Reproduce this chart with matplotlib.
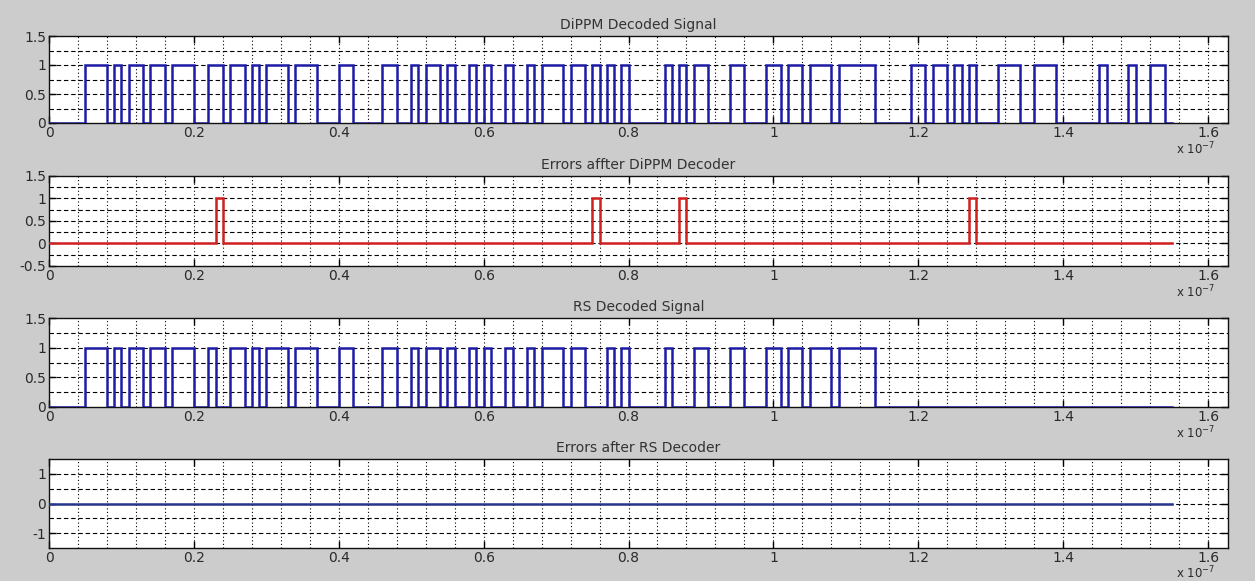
import numpy as np
import matplotlib
matplotlib.use("Agg")
import matplotlib.pyplot as plt
from matplotlib.ticker import FixedLocator, FuncFormatter

# ---- data (times in ns) ----
dippm_rise = [5, 9, 11, 14, 17, 22, 25, 28, 30, 34, 40, 46, 50, 52, 55, 58, 60, 63, 66, 68,
              72, 75, 77, 79, 85, 87, 89, 94, 99, 102, 105, 109, 119, 122, 125, 127, 131, 136,
              145, 149, 152]
dippm_fall = [8, 10, 13, 16, 20, 24, 27, 29, 33, 37, 42, 48, 51, 54, 56, 59, 61, 64, 67, 71,
              74, 76, 78, 80, 86, 88, 91, 96, 101, 104, 108, 114, 121, 124, 126, 128, 134, 139,
              146, 150, 154]
err1_rise = [23, 75, 87, 127]
err1_fall = [24, 76, 88, 128]
rs_rise = [5, 9, 11, 14, 17, 22, 25, 28, 30, 34, 40, 46, 50, 52, 55, 58, 60, 63, 66, 68,
           72, 77, 79, 85, 89, 94, 99, 102, 105, 109]
rs_fall = [8, 10, 13, 16, 20, 23, 27, 29, 33, 37, 42, 48, 51, 54, 56, 59, 61, 64, 67, 71,
           74, 78, 80, 86, 91, 96, 101, 104, 108, 114]
err2_rise = []
err2_fall = []
t_end = 155  # ns

titles = ["DiPPM Decoded Signal", "Errors affter DiPPM Decoder",
          "RS Decoded Signal", "Errors after RS Decoder"]
xticks = [0, 0.2, 0.4, 0.6, 0.8, 1.0, 1.2, 1.4, 1.6]


def wave(rises, falls, end):
    xs = [0.0]
    ys = [0.0]
    for r, f in zip(rises, falls):
        xs += [r, r, f, f]
        ys += [0, 1, 1, 0]
    xs.append(end)
    ys.append(0)
    return np.array(xs) * 1e-9, np.array(ys, dtype=float)


BLUE = "#1c1ca6"
RED = "#d02020"
DARKBLUE = "#26368c"

fig = plt.figure(figsize=(12.55, 5.81), dpi=100, facecolor="#cccccc")
W, H = 1255.0, 581.0
left_px, right_px = 49, 1228
rects = [(36, 123), (176, 266), (318, 407), (459, 548)]

signals = [
    (wave(dippm_rise, dippm_fall, t_end), BLUE),
    (wave(err1_rise, err1_fall, t_end), RED),
    (wave(rs_rise, rs_fall, t_end), BLUE),
    (wave(err2_rise, err2_fall, t_end), DARKBLUE),
]
ylims = [(0, 1.5), (-0.5, 1.5), (0, 1.5), (-1.5, 1.5)]
yticks = [[0, 0.5, 1, 1.5], [-0.5, 0, 0.5, 1, 1.5], [0, 0.5, 1, 1.5], [-1, 0, 1]]
ygrid = [np.arange(0.25, 1.5, 0.25), np.arange(-0.25, 1.5, 0.25),
         np.arange(0.25, 1.5, 0.25), np.arange(-1.0, 1.5, 0.5)]

xmax = 1.6276e-7
for i, ((top, bot), ((xs, ys), col)) in enumerate(zip(rects, signals)):
    ax = fig.add_axes([left_px / W, 1 - bot / H, (right_px - left_px) / W, (bot - top) / H])
    ax.set_facecolor("white")
    ax.set_xlim(0, xmax)
    ax.set_ylim(*ylims[i])
    # grid lines
    for gx in np.arange(0.04, 1.62, 0.04):
        ax.axvline(gx * 1e-7, color="black", lw=0.8, ls=(0, (1.0, 2.2)), zorder=1)
    for gy in ygrid[i]:
        ax.axhline(gy, color="black", lw=0.8, ls=(0, (4.0, 2.5)), zorder=1)
    ax.plot(xs, ys, color=col, lw=1.8, zorder=3, solid_joinstyle="miter")
    ax.xaxis.set_major_locator(FixedLocator([v * 1e-7 for v in xticks]))
    ax.xaxis.set_major_formatter(FuncFormatter(lambda v, p: "%g" % round(v / 1e-7, 3)))
    ax.yaxis.set_major_locator(FixedLocator(yticks[i]))
    ax.yaxis.set_major_formatter(FuncFormatter(lambda v, p: "%g" % v))
    ax.tick_params(direction="in", length=5, width=1, top=True, right=True,
                   labelsize=10, labelcolor="#2a2a2a", pad=2)
    ax.tick_params(axis="x", pad=2)
    for s in ax.spines.values():
        s.set_linewidth(1.0)
        s.set_color("#111111")
    ax.set_title(titles[i], fontsize=10, color="#333333", pad=5)
    base = min(bot + 31, 578)
    fig.text(1176 / W, 1 - base / H, r"x 10$^{-7}$", fontsize=8.5, color="#2a2a2a",
             ha="left", va="baseline")

fig.savefig("out.png", dpi=100, facecolor=fig.get_facecolor())
